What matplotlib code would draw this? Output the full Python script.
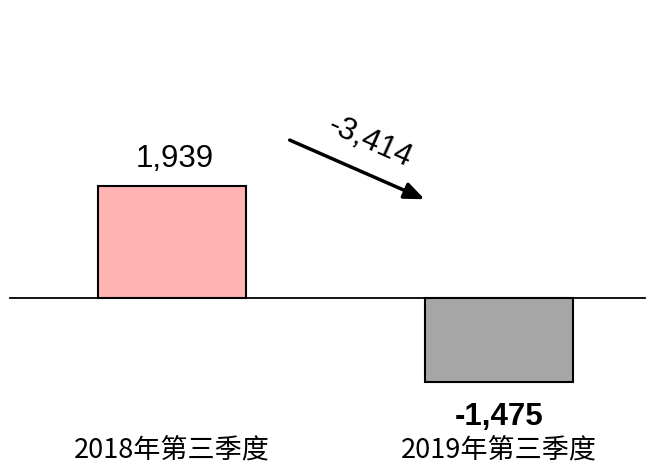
import matplotlib.pyplot as plt

plt.rcParams['font.family'] = ['Liberation Sans', 'DejaVu Sans']

categories = ['2018年第三季度', '2019年第三季度']
values = [1939, -1475]
change = values[1] - values[0]  # -3,414
bar_colors = ['#FFB3B3', '#A6A6A6']

fig = plt.figure(figsize=(6.58, 4.64), dpi=100)
ax = fig.add_axes([0, 0, 1, 1])
ax.set_xlim(-0.526, 1.486)
ax.set_ylim(-2878, 5191)
ax.axis('off')

x = list(range(len(categories)))
ax.bar(x, values, width=0.455, color=bar_colors, edgecolor='black', linewidth=1.5, zorder=2)
ax.plot([-0.495, 1.446], [0, 0], color='black', linewidth=1.3, zorder=3)

# value labels
ax.annotate(f'{values[0]:,}', (x[0], values[0]), xytext=(2, 20), textcoords='offset points',
            ha='center', va='center', fontsize=22.5)
ax.annotate(f'{values[1]:,}', (x[1], values[1]), xytext=(0, -24), textcoords='offset points',
            ha='center', va='center', fontsize=22.5, fontweight='bold')

# category labels
for xi, cat in zip(x, categories):
    ax.text(xi, -2630, cat, ha='center', va='center', fontsize=19.5,
            family=['Noto Sans CJK SC', 'DejaVu Sans'])

# change arrow
ax.annotate('', xy=(0.780, 1690), xytext=(0.352, 2757),
            arrowprops=dict(arrowstyle='-|>,head_length=1.2,head_width=0.5', color='black', lw=2.5))
ax.text(0.606, 2720, f'{change:,}', ha='center', va='center', fontsize=22.5, rotation=-24)

fig.savefig('out.png', dpi=100)
